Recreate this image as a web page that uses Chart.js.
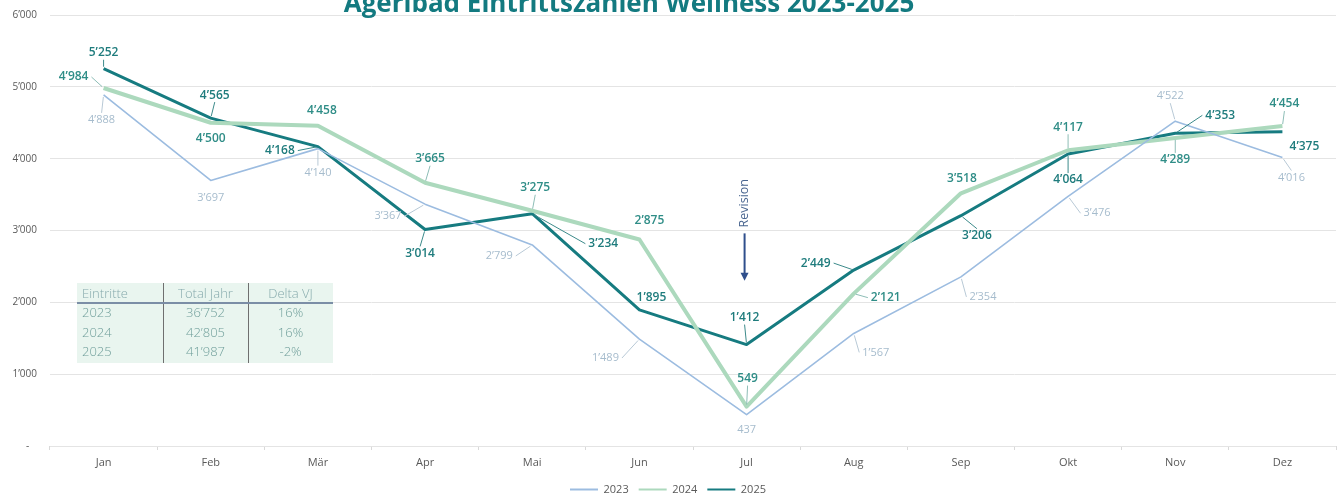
<!DOCTYPE html>
<html>
<head>
<meta charset="utf-8">
<script src="https://cdn.jsdelivr.net/npm/chart.js@4.4.1/dist/chart.umd.min.js"></script>
<style>
  html, body { margin: 0; padding: 0; background: #ffffff; }
  #wrap { width: 1341px; height: 495px; position: relative; }
</style>
</head>
<body>
<div id="wrap"><canvas id="wellness_Chart"></canvas></div>
<script>
// Monate und Eintritte pro Jahr
const months = ['Jan', 'Feb', 'Mär', 'Apr', 'Mai', 'Jun', 'Jul', 'Aug', 'Sep', 'Okt', 'Nov', 'Dez'];
const visits2023 = [4888, 3697, 4140, 3367, 2799, 1489, 437, 1567, 2354, 3476, 4522, 4016];
const visits2024 = [4984, 4500, 4458, 3665, 3275, 2875, 549, 2121, 3518, 4117, 4289, 4454];
const visits2025 = [5252, 4565, 4168, 3014, 3234, 1895, 1412, 2449, 3206, 4064, 4353, 4375];
const yTicks = [0, 1000, 2000, 3000, 4000, 5000, 6000];

// Tabelle links unten
const tableHead = ['Eintritte', 'Total Jahr', 'Delta VJ'];
const tableYears = ['2023', '2024', '2025'];
const tableTotals = ['36’752', '42’805', '41’987'];
const tableDelta = ['16%', '16%', '-2%'];

// Lage der Beschriftungen relativ zum Punkt: [dx, dy, Fuehrungslinie]
const lbl2023 = [[-2, 25, 1], [0, 17, 0], [0, 24, 1], [-37, 12, 1], [-33, 11, 1], [-34, 19, 1],
                 [0, 15, 0], [22, 19, 1], [22, 20, 1], [29, 17, 1], [-5, -25, 1], [9, 20, 1]];
const lbl2024 = [[-30, -11, 1], [0, 16, 0], [4, -15, 0], [5, -24, 1], [3, -23, 1], [10, -19, 0],
                 [1, -28, 1], [32, 4, 1], [1, -15, 0], [0, -23, 1], [0, 22, 1], [2, -22, 1]];
const lbl2025 = [[0, -16, 1], [4, -23, 1], [-38, 4, 1], [-5, 24, 1], [71, 30, 1], [12, -12, 0],
                 [-2, -27, 1], [-38, -7, 1], [16, 20, 1], [0, 26, 1], [45, -18, 1], [22, 15, 0]];

const ctx = document.getElementById('wellness_Chart');

function fmt(v) {
    if (v < 1000) return String(v);
    return Math.floor(v / 1000) + '’' + String(v % 1000).padStart(3, '0');
}

// Werte mit Fuehrungslinien
const pointLabels = {
    id: 'pointLabels',
    afterDatasetsDraw(chart) {
        const c = chart.ctx;
        chart.data.datasets.forEach((ds, i) => {
            const meta = chart.getDatasetMeta(i);
            const offs = ds.labelOffsets;
            c.save();
            c.font = ds.labelFont;
            c.textAlign = 'center';
            c.textBaseline = 'middle';
            meta.data.forEach((pt, j) => {
                const [dx, dy, lead] = offs[j];
                const cx = pt.x + dx, cy = pt.y + dy;
                const txt = fmt(ds.data[j]);
                const w = c.measureText(txt).width;
                if (lead) {
                    let ax, ay;
                    if (Math.abs(dx) > w / 2 + 2) {
                        ax = cx + (dx > 0 ? -1 : 1) * (w / 2 + 3);
                        ay = cy;
                    } else {
                        ax = cx;
                        ay = cy + (dy > 0 ? -1 : 1) * 7;
                    }
                    const len = Math.hypot(pt.x - ax, pt.y - ay);
                    if (len > 4) {
                        const ex = pt.x - (pt.x - ax) * 2 / len;
                        const ey = pt.y - (pt.y - ay) * 2 / len;
                        c.strokeStyle = ds.leaderColor;
                        c.lineWidth = 1;
                        c.beginPath();
                        c.moveTo(ax, ay);
                        c.lineTo(ex, ey);
                        c.stroke();
                    }
                }
                c.fillStyle = ds.labelColor;
                c.fillText(txt, cx, cy);
            });
            c.restore();
        });
    }
};

// Titel, Tabelle, Revision
const decorations = {
    id: 'decorations',
    beforeDatasetsDraw(chart) {
        const c = chart.ctx;
        const x0 = 77, y0 = 283, colW = [86, 85, 85], rowH = 19.5;
        c.save();
        c.fillStyle = '#e9f5ef';
        c.fillRect(x0, y0, 256, 80);
        c.strokeStyle = '#6f6f6f';
        c.lineWidth = 1;
        c.beginPath();
        c.moveTo(x0 + colW[0] + 0.5, y0);
        c.lineTo(x0 + colW[0] + 0.5, y0 + 80);
        c.moveTo(x0 + colW[0] + colW[1] + 0.5, y0);
        c.lineTo(x0 + colW[0] + colW[1] + 0.5, y0 + 80);
        c.stroke();
        c.strokeStyle = '#7b8ea6';
        c.lineWidth = 2;
        c.beginPath();
        c.moveTo(x0, y0 + 20);
        c.lineTo(x0 + 256, y0 + 20);
        c.stroke();
        c.font = '300 13px "Open Sans"';
        c.textBaseline = 'middle';
        const rows = [tableHead].concat(tableYears.map((y, k) => [y, tableTotals[k], tableDelta[k]]));
        rows.forEach((r, k) => {
            const cy = y0 + 11 + k * rowH;
            c.fillStyle = k === 0 ? '#86aaac' : '#6f9e9a';
            c.textAlign = 'left';
            c.fillText(r[0], x0 + 5, cy);
            c.textAlign = 'center';
            c.fillText(r[1], x0 + colW[0] + colW[1] / 2, cy);
            c.fillText(r[2], x0 + colW[0] + colW[1] + colW[2] / 2, cy);
        });
        c.restore();
    },
    afterDraw(chart) {
        const c = chart.ctx;
        const xs = chart.scales.x, ys = chart.scales.y;
        c.save();
        // Titel
        c.fillStyle = '#137a80';
        c.font = 'bold 26px "Open Sans"';
        c.textAlign = 'center';
        c.textBaseline = 'alphabetic';
        c.fillText('Ägeribad Eintrittszahlen Wellness 2023-2025', 629, 12);
        // Revision
        const rx = xs.getPixelForValue(6) - 2;
        c.translate(rx, ys.getPixelForValue(3380));
        c.rotate(-Math.PI / 2);
        c.fillStyle = '#4a6690';
        c.font = '12.5px "Open Sans"';
        c.textAlign = 'center';
        c.textBaseline = 'middle';
        c.fillText('Revision', 0, 0);
        c.restore();
        c.save();
        const top = ys.getPixelForValue(2960), bot = ys.getPixelForValue(2300);
        c.strokeStyle = '#2f4f8c';
        c.fillStyle = '#2f4f8c';
        c.lineWidth = 2;
        c.beginPath();
        c.moveTo(rx, top);
        c.lineTo(rx, bot - 6);
        c.stroke();
        c.beginPath();
        c.moveTo(rx - 4, bot - 8);
        c.lineTo(rx + 4, bot - 8);
        c.lineTo(rx, bot);
        c.closePath();
        c.fill();
        c.restore();
    }
};

new Chart(ctx, {
    type: 'line',
    data: {
        labels: months,
        datasets: [{
            label: '2023',
            data: visits2023,
            borderColor: '#9cbce0',
            backgroundColor: '#9cbce0',
            borderWidth: 1.6,
            labelColor: '#a6bccd',
            leaderColor: '#b8c9d6',
            labelFont: '11px "Open Sans"',
            labelOffsets: lbl2023
        }, {
            label: '2024',
            data: visits2024,
            borderColor: '#acd9bd',
            backgroundColor: '#acd9bd',
            borderWidth: 4,
            labelColor: '#2f8d87',
            leaderColor: '#8dbdb6',
            labelFont: '600 12px "Open Sans"',
            labelOffsets: lbl2024
        }, {
            label: '2025',
            data: visits2025,
            borderColor: '#167b80',
            backgroundColor: '#167b80',
            borderWidth: 3,
            labelColor: '#1f7c7d',
            leaderColor: '#3c8a8a',
            labelFont: '600 12px "Open Sans"',
            labelOffsets: lbl2025
        }]
    },
    options: {
        responsive: true,
        maintainAspectRatio: false,
        animation: false,
        elements: {
            point: { radius: 0, hoverRadius: 0 },
            line: { tension: 0, borderJoinStyle: 'round' }
        },
        layout: { padding: { top: 15, right: 5, left: 0, bottom: -10 } },
        scales: {
            x: {
                offset: true,
                grid: { offset: true, drawOnChartArea: false, drawTicks: true, tickLength: 4, color: '#d9d9d9' },
                border: { display: false },
                ticks: { color: '#595959', font: { size: 11, family: 'Open Sans' }, padding: 6 },
                afterFit: function (scale) { scale.height = 28; }
            },
            y: {
                min: 0,
                max: 6000,
                afterBuildTicks: function (scale) { scale.ticks = yTicks.map(v => ({ value: v })); },
                grid: { color: '#e4e4e4', drawTicks: true, tickLength: 13, tickColor: 'rgba(0,0,0,0)' },
                border: { display: false },
                ticks: {
                    color: '#595959',
                    font: { size: 10, family: 'Open Sans' },
                    padding: 0,
                    callback: function (v) { return v === 0 ? '-   ' : fmt(v); }
                },
                afterFit: function (scale) { scale.width = 50; }
            }
        },
        plugins: {
            legend: {
                position: 'bottom',
                labels: {
                    color: '#595959',
                    font: { size: 11, family: 'Open Sans' },
                    boxWidth: 28,
                    boxHeight: 2,
                    padding: 10,
                    generateLabels: function (chart) {
                        return chart.data.datasets.map((ds, i) => ({
                            text: ds.label,
                            fillStyle: ds.borderColor,
                            strokeStyle: ds.borderColor,
                            lineWidth: 0,
                            fontColor: '#595959',
                            datasetIndex: i
                        }));
                    }
                }
            },
            tooltip: { enabled: false }
        }
    },
    plugins: [decorations, pointLabels]
});
</script>
</body>
</html>
